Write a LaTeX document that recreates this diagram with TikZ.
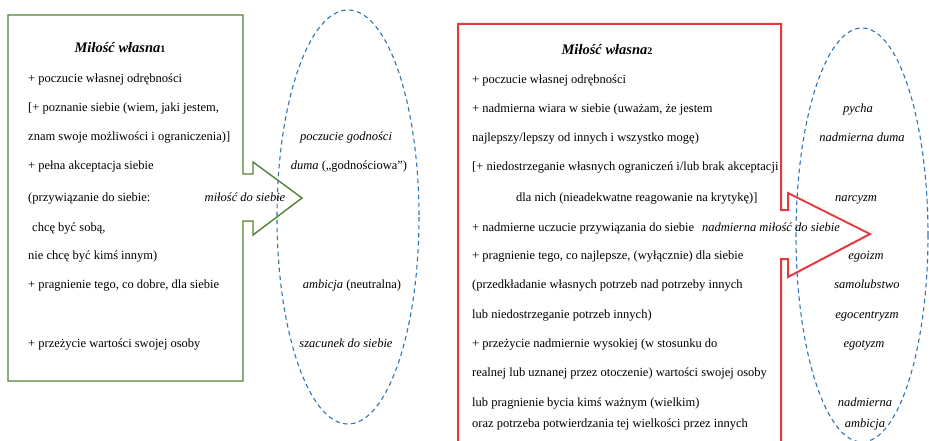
\documentclass[tikz,border=0pt]{standalone}
\usepackage{fontspec}
\setmainfont{Liberation Serif}
\definecolor{grn}{RGB}{84,130,53}
\definecolor{rd}{RGB}{228,58,66}
\definecolor{blu}{RGB}{46,117,182}
\begin{document}
\begin{tikzpicture}[x=1pt,y=-1pt,
  txt/.style={anchor=base west, inner sep=0pt, font=\fontsize{12.5}{14}\selectfont},
  itx/.style={anchor=base, inner sep=0pt, font=\fontsize{12.5}{14}\selectfont\itshape},
  ttl/.style={anchor=base, inner sep=0pt, font=\fontsize{14.5}{16}\selectfont\bfseries\itshape},
  ell/.style={blu, line width=1.1pt, dash pattern=on 4.5pt off 3.5pt},
  gline/.style={grn, line width=1.4pt, line join=miter},
  rline/.style={rd, line width=2pt, line join=miter}]
\useasboundingbox (0,0) rectangle (929,441);
\clip (0,0) rectangle (929,441);
\fill[white] (0,0) rectangle (929,441);

% left block
\draw[gline] (8,15) -- (243,15) -- (243,174) -- (253,174) -- (253,162) -- (302,198)
  -- (253,235) -- (253,221) -- (243,221) -- (243,381) -- (8,381) -- cycle;
\draw[ell] (348,217) ellipse [x radius=71, y radius=207];

\node[ttl] (t1) at (120,53) {Miłość własna{\fontsize{10}{10}\selectfont\upshape 1}};
\node[txt] (l1) at (28,83) {+ poczucie własnej odrębności};
\node[txt] (l2) at (28,112) {[+ poznanie siebie (wiem, jaki jestem,};
\node[txt] (l3) at (28,141) {znam swoje możliwości i ograniczenia)]};
\node[txt] (l4) at (28,170) {+ pełna akceptacja siebie};
\node[txt] (l5) at (28,201) {(przywiązanie do siebie:};
\node[txt] (l6) at (32,231) {chcę być sobą,};
\node[txt] (l7) at (28,259) {nie chcę być kimś innym)};
\node[txt] (l8) at (28,288) {+ pragnienie tego, co dobre, dla siebie};
\node[txt] (l9) at (28,347) {+ przeżycie wartości swojej osoby};

\node[itx] (lm) at (245,201) {miłość do siebie};
\node[itx] (e1) at (346,141) {poczucie godności};
\node[itx] (e2) at (349,170) {duma {\upshape(„godnościowa”)}};
\node[itx] (e3) at (352,288) {ambicja {\upshape(neutralna)}};
\node[itx] (e4) at (346,347) {szacunek do siebie};

% right block
\draw[rline] (458,24) -- (781,24) -- (781,210) -- (788,210) -- (788,193) -- (870,234)
  -- (788,277) -- (788,259) -- (781,259) -- (781,470) -- (458,470) -- cycle;
\draw[ell] (862,235) ellipse [x radius=66, y radius=207];

\node[ttl] (t2) at (607,55) {Miłość własna{\fontsize{10}{10}\selectfont\upshape 2}};
\node[txt] (r1) at (472,84) {+ poczucie własnej odrębności};
\node[txt] (r2) at (472,113) {+ nadmierna wiara w siebie (uważam, że jestem};
\node[txt] (r3) at (472,142) {najlepszy/lepszy od innych i wszystko mogę)};
\node[txt] (r4) at (472,171) {[+ niedostrzeganie własnych ograniczeń i/lub brak akceptacji};
\node[txt] (r5) at (516,201) {dla nich (nieadekwatne reagowanie na krytykę)]};
\node[txt] (r6) at (472,231) {+ nadmierne uczucie przywiązania do siebie};
\node[txt] (r7) at (472,259) {+ pragnienie tego, co najlepsze, (wyłącznie) dla siebie};
\node[txt] (r8) at (472,288) {(przedkładanie własnych potrzeb nad potrzeby innych};
\node[txt] (r9) at (472,318) {lub niedostrzeganie potrzeb innych)};
\node[txt] (r10) at (472,347) {+ przeżycie nadmiernie wysokiej (w stosunku do};
\node[txt] (r11) at (472,376) {realnej lub uznanej przez otoczenie) wartości swojej osoby};
\node[txt] (r12) at (472,406) {lub pragnienie bycia kimś ważnym (wielkim)};
\node[txt] (r13) at (472,427) {oraz potrzeba potwierdzania tej wielkości przez innych};

\node[itx] (rm) at (771,231) {nadmierna miłość do siebie};
\node[itx] (f1) at (858,113) {pycha};
\node[itx] (f2) at (862,142) {nadmierna duma};
\node[itx] (f3) at (856,201) {narcyzm};
\node[itx] (f4) at (866,259) {egoizm};
\node[itx] (f5) at (867,288) {samolubstwo};
\node[itx] (f6) at (867,318) {egocentryzm};
\node[itx] (f7) at (864,347) {egotyzm};
\node[itx] (f8) at (865,406) {nadmierna};
\node[itx] (f9) at (865,427) {ambicja};
\end{tikzpicture}
\end{document}
